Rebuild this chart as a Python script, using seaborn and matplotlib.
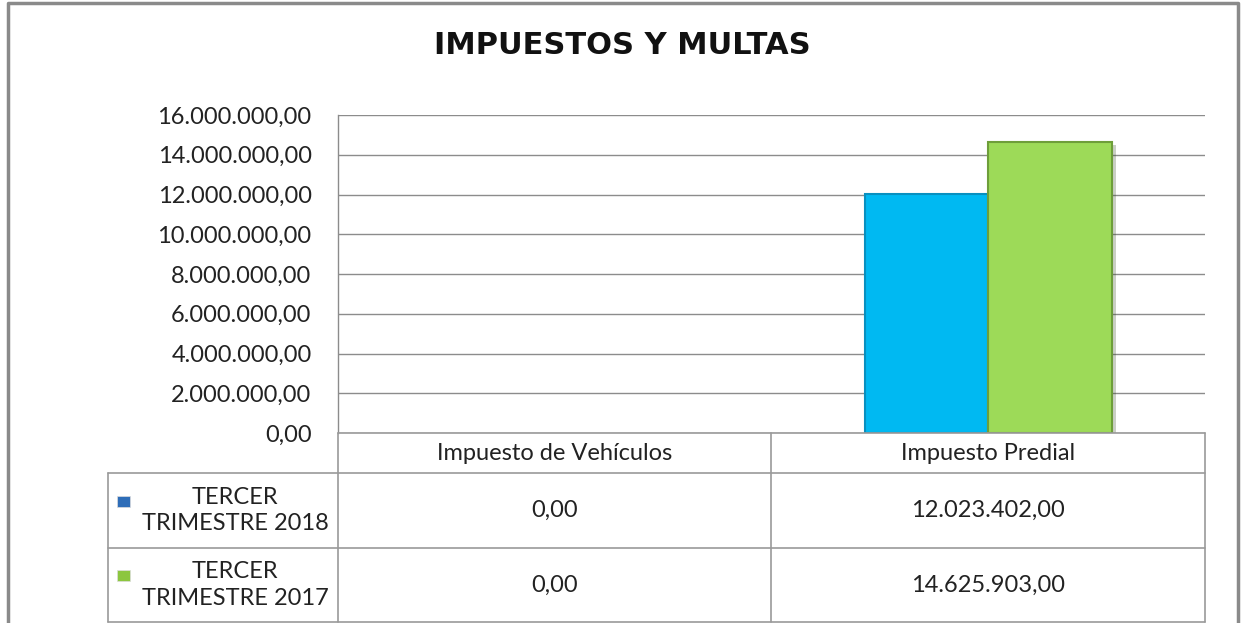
import matplotlib
matplotlib.use("Agg")
import matplotlib.pyplot as plt
import matplotlib.patheffects as pe
import seaborn as sns
import pandas as pd

# datos
categorias = ["Impuesto de Vehículos", "Impuesto Predial"]
series = ["TERCER\nTRIMESTRE 2018", "TERCER\nTRIMESTRE 2017"]
valores_2018 = [0.00, 12023402.00]
valores_2017 = [0.00, 14625903.00]
ticks_y = [0, 2000000, 4000000, 6000000, 8000000, 10000000, 12000000, 14000000, 16000000]

colores_barra = ["#00B9F2", "#9DDA58"]
bordes_barra = ["#0890C0", "#6E9E3A"]
colores_leyenda = ["#2E6DB8", "#8CC63F"]
gris = "#9A9A9A"


def fmt_es(v):
    s = f"{v:,.2f}"
    return s.replace(",", "X").replace(".", ",").replace("X", ".")


df = pd.DataFrame({
    "categoria": categorias * 2,
    "serie": [series[0]] * len(categorias) + [series[1]] * len(categorias),
    "valor": valores_2018 + valores_2017,
})

sns.set_style("white")
plt.rcParams["font.family"] = ["Lato", "DejaVu Sans"]

W, H = 1244, 623
fig = plt.figure(figsize=(W / 100, H / 100), dpi=100)

# area del grafico (en pixeles de la figura)
x0, x1, y0, y1 = 338, 1205, 115, 433
ax = fig.add_axes([x0 / W, (H - y1) / H, (x1 - x0) / W, (y1 - y0) / H])

sns.barplot(data=df, x="categoria", y="valor", hue="serie",
            palette=colores_barra, width=0.57, saturation=1,
            legend=False, ax=ax, zorder=3)

for i, cont in enumerate(ax.containers):
    for bar in cont:
        if bar.get_height() == 0:
            bar.set_linewidth(0)
            continue
        bar.set_edgecolor(bordes_barra[i])
        bar.set_linewidth(1.5)
        bar.set_path_effects([pe.SimplePatchShadow(offset=(3, -2), alpha=0.25),
                              pe.Normal()])

ax.set_ylim(0, 16000000)
ax.set_xlim(-0.5, 1.5)
ax.set_yticks(ticks_y)
ax.set_yticklabels([fmt_es(t) for t in ticks_y], fontsize=17, color="#222222")
ax.yaxis.grid(True, color="#8C8C8C", linewidth=1)
ax.set_axisbelow(True)
ax.tick_params(axis="y", length=0, pad=19)
ax.set_xticks([])
ax.set_xlabel("")
ax.set_ylabel("")
for s in ["top", "right", "bottom"]:
    ax.spines[s].set_visible(False)
ax.spines["left"].set_color("#8C8C8C")
ax.spines["left"].set_linewidth(1)

# capa de tabla y marco en pixeles
ov = fig.add_axes([0, 0, 1, 1], zorder=5)
ov.set_xlim(0, W)
ov.set_ylim(H, 0)
ov.axis("off")
ov.patch.set_alpha(0)

# marco exterior
ov.plot([8, 8, 1238, 1238], [H, 3, 3, H], color="#8A8A8A", linewidth=2.5)

ov.text(W / 2, 46, "IMPUESTOS Y MULTAS", ha="center", va="center",
        fontsize=22, fontweight="heavy", family=["DejaVu Sans"], color="#111111")

# tabla de datos
cx = [108, 338, 771, 1205]
ry = [433, 473, 548, 622]
kw = dict(color=gris, linewidth=1.2)
ov.plot([cx[1], cx[3]], [ry[0], ry[0]], **kw)
for y in ry[1:]:
    ov.plot([cx[0], cx[3]], [y, y], **kw)
for x in cx[1:]:
    ov.plot([x, x], [ry[0], ry[3]], **kw)
ov.plot([cx[0], cx[0]], [ry[1], ry[3]], **kw)

for j, cat in enumerate(categorias):
    ov.text((cx[j + 1] + cx[j + 2]) / 2, (ry[0] + ry[1]) / 2, cat,
            ha="center", va="center", fontsize=17, color="#222222")

filas = [valores_2018, valores_2017]
for i, nombre in enumerate(series):
    yc = (ry[i + 1] + ry[i + 2]) / 2
    ov.add_patch(plt.Rectangle((117, yc - 15), 13, 11, facecolor=colores_leyenda[i],
                               edgecolor="#DDDDDD", linewidth=0.5))
    ov.text(235, yc, nombre, ha="center", va="center", fontsize=17,
            color="#222222", linespacing=1.35)
    for j, v in enumerate(filas[i]):
        ov.text((cx[j + 1] + cx[j + 2]) / 2, yc, fmt_es(v), ha="center",
                va="center", fontsize=17, color="#222222")

fig.savefig("out.png", dpi=100)
